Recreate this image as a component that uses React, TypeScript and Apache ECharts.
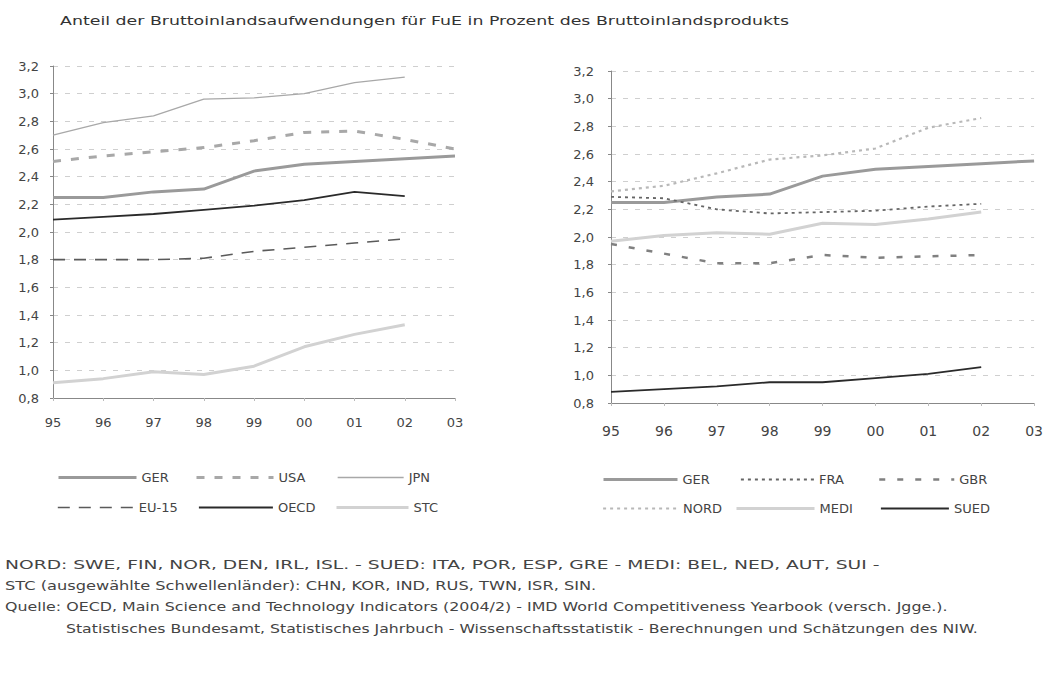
import React, { useEffect, useRef } from 'react';
import * as echarts from 'echarts';

const years = ['95', '96', '97', '98', '99', '00', '01', '02', '03'];

// Left chart series
const gerValues = [2.25, 2.25, 2.29, 2.31, 2.44, 2.49, 2.51, 2.53, 2.55];
const usaValues = [2.51, 2.55, 2.58, 2.61, 2.66, 2.72, 2.73, 2.67, 2.6];
const jpnValues = [2.7, 2.79, 2.84, 2.96, 2.97, 3.0, 3.08, 3.12, null];
const eu15Values = [1.8, 1.8, 1.8, 1.81, 1.86, 1.89, 1.92, 1.95, null];
const oecdValues = [2.09, 2.11, 2.13, 2.16, 2.19, 2.23, 2.29, 2.26, null];
const stcValues = [0.91, 0.94, 0.99, 0.97, 1.03, 1.17, 1.26, 1.33, null];

// Right chart series
const fraValues = [2.29, 2.28, 2.2, 2.17, 2.18, 2.19, 2.22, 2.24, null];
const gbrValues = [1.95, 1.88, 1.81, 1.81, 1.87, 1.85, 1.86, 1.87, null];
const nordValues = [2.33, 2.37, 2.46, 2.56, 2.59, 2.64, 2.79, 2.86, null];
const mediValues = [1.97, 2.01, 2.03, 2.02, 2.1, 2.09, 2.13, 2.18, null];
const suedValues = [0.88, 0.9, 0.92, 0.95, 0.95, 0.98, 1.01, 1.06, null];

const titleText = 'Anteil der Bruttoinlandsaufwendungen für FuE in Prozent des Bruttoinlandsprodukts';
const footnotes = [
  'NORD: SWE, FIN, NOR, DEN, IRL, ISL. - SUED: ITA, POR, ESP, GRE - MEDI: BEL, NED, AUT, SUI -',
  'STC (ausgewählte Schwellenländer): CHN, KOR, IND, RUS, TWN, ISR, SIN.',
  'Quelle: OECD, Main Science and Technology Indicators (2004/2) - IMD World Competitiveness Yearbook (versch. Jgge.).',
  'Statistisches Bundesamt, Statistisches Jahrbuch - Wissenschaftsstatistik - Berechnungen und Schätzungen des NIW.',
];

const FONT = "'DejaVu Sans', sans-serif";

function measure(text: string, size: number): number {
  const c = document.createElement('canvas');
  const ctx = c.getContext('2d');
  if (!ctx) return text.length * size * 0.55;
  ctx.font = `${size}px 'DejaVu Sans'`;
  return ctx.measureText(text).width;
}

function fittedText(text: string, x: number, y: number, targetRight: number, size: number, fill: string) {
  const w = measure(text, size);
  return {
    type: 'text',
    x,
    y,
    scaleX: (targetRight - x) / w,
    style: { text, fontSize: size, fontFamily: FONT, fill, verticalAlign: 'middle', align: 'left' },
  };
}

export default function App() {
  const ref = useRef<HTMLDivElement>(null);
  useEffect(() => {
    if (!ref.current) return;
    const chart = echarts.init(ref.current, null, { renderer: 'svg' });

    const yAxisBase = (gridIndex: number, margin: number) => ({
      type: 'value',
      gridIndex,
      min: 0.8,
      max: 3.2,
      interval: 0.2,
      axisLine: { show: true, lineStyle: { color: '#888', width: 1 } },
      axisTick: { show: true, length: 3, lineStyle: { color: '#888' } },
      splitLine: { show: true, lineStyle: { color: '#cfcfcf', type: [5, 7], width: 1 } },
      axisLabel: {
        margin,
        color: '#444',
        fontSize: 13,
        fontFamily: FONT,
        formatter: (v: number) => v.toFixed(1).replace('.', ','),
      },
    });
    const xAxisBase = (gridIndex: number, margin: number, fontSize: number) => ({
      type: 'category',
      gridIndex,
      data: years,
      boundaryGap: false,
      axisLine: { show: true, lineStyle: { color: '#888', width: 1 } },
      axisTick: { show: true, length: 3, lineStyle: { color: '#bbb' } },
      splitLine: { show: false },
      axisLabel: { margin, color: '#444', fontSize, fontFamily: FONT },
    });

    const line = (name: string, data: any[], idx: number, color: string, width: number, type: any, z = 2) => ({
      name,
      type: 'line',
      xAxisIndex: idx,
      yAxisIndex: idx,
      data,
      symbol: 'none',
      connectNulls: false,
      z,
      lineStyle: { color, width, type },
      itemStyle: { color },
    });

    const legendItem = (name: string, left: number, top: number, itemWidth: number) => ({
      data: [name],
      left,
      top: top - 7,
      padding: 0,
      itemWidth,
      itemHeight: 14,
      selectedMode: false,
      itemStyle: { opacity: 0 },
      lineStyle: { width: 'inherit' },
      textStyle: { fontSize: 13, color: '#444', fontFamily: FONT },
    });

    const option: any = {
      animation: false,
      backgroundColor: '#ffffff',
      grid: [
        { left: 53, top: 66, width: 402, height: 332 },
        { left: 611, top: 71, width: 426, height: 332 },
      ],
      xAxis: [xAxisBase(0, 18, 13), xAxisBase(1, 21, 14)],
      yAxis: [yAxisBase(0, 14), yAxisBase(1, 17)],
      legend: [
        legendItem('GER', 57, 478, 78),
        legendItem('USA', 195, 478, 77),
        legendItem('JPN', 337, 478, 66),
        legendItem('EU-15', 57, 508, 76),
        legendItem('OECD', 198, 508, 74),
        legendItem('STC', 335, 508, 72),
        legendItem('FRA', 740, 480, 73),
        legendItem('GBR', 878, 480, 75),
        legendItem('NORD', 602, 509, 75),
        legendItem('MEDI', 735, 509, 78),
        legendItem('SUED', 880, 509, 68),
        legendItem('GER', 602, 480, 74),
      ],
      series: [
        line('STC', stcValues, 0, '#d2d2d2', 3, 'solid', 1),
        line('JPN', jpnValues, 0, '#a8a8a8', 1.3, 'solid'),
        line('USA', usaValues, 0, '#a8a8a8', 3, [8, 10]),
        line('GER', gerValues, 0, '#9a9a9a', 3, 'solid'),
        line('OECD', oecdValues, 0, '#2a2a2a', 1.8, 'solid'),
        line('EU-15', eu15Values, 0, '#5a5a5a', 1.6, [12, 9]),
        line('MEDI', mediValues, 1, '#d2d2d2', 3, 'solid', 1),
        line('NORD', nordValues, 1, '#b8b8b8', 2.2, [3, 4]),
        line('GER', gerValues, 1, '#9a9a9a', 3, 'solid'),
        line('FRA', fraValues, 1, '#666666', 1.8, [3, 4]),
        line('GBR', gbrValues, 1, '#808080', 2.5, [6, 12]),
        line('SUED', suedValues, 1, '#2a2a2a', 1.8, 'solid'),
      ],
      graphic: [
        fittedText(titleText, 60, 21, 790, 12, '#333'),
        fittedText(footnotes[0], 5, 565, 880, 12, '#444'),
        fittedText(footnotes[1], 5, 586, 597, 12, '#444'),
        fittedText(footnotes[2], 5, 607, 948, 12, '#444'),
        fittedText(footnotes[3], 66, 629, 978, 12, '#444'),
      ],
    };
    chart.setOption(option);
    return () => chart.dispose();
  }, []);
  return (
    <div
      ref={ref}
      style={{ position: 'absolute', left: 0, top: 0, width: 1046, height: 673, background: '#fff' }}
    />
  );
}
